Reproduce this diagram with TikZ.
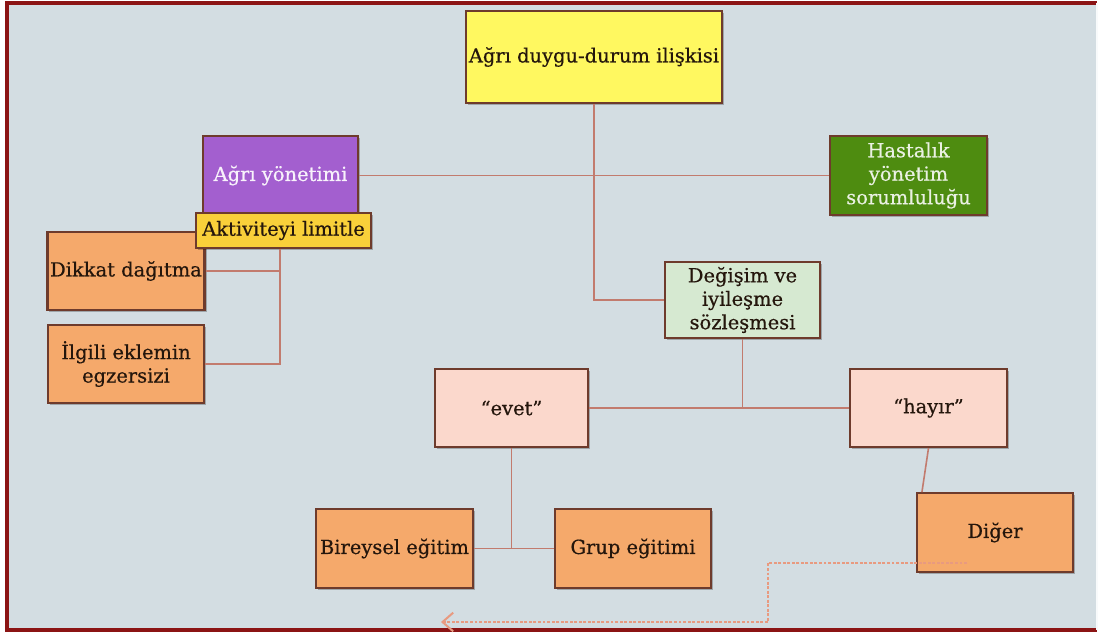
\documentclass[tikz,border=0pt]{standalone}
\usepackage{fontspec}
\setmainfont{DejaVu Serif}[FakeBold=0.5]
\usetikzlibrary{shadows,arrows.meta,calc}
\definecolor{bgc}{HTML}{D3DDE2}
\definecolor{framec}{HTML}{8B1414}
\definecolor{borderc}{HTML}{6E3B2C}
\definecolor{linec}{HTML}{C27B6E}
\definecolor{yellowc}{HTML}{FFF860}
\definecolor{purplec}{HTML}{A35FCF}
\definecolor{goldc}{HTML}{F9D03A}
\definecolor{orangec}{HTML}{F5A96B}
\definecolor{greenc}{HTML}{4E8C10}
\definecolor{lgreenc}{HTML}{D6E9D1}
\definecolor{pinkc}{HTML}{FBD8CC}
\definecolor{dashc}{HTML}{E89A80}
\definecolor{textc}{HTML}{24160C}
\tikzset{
  box/.style={draw=borderc, line width=1.6pt, align=center, inner sep=2pt,
    text=textc, font=\fontsize{14.6}{17.6}\selectfont,
    drop shadow={shadow xshift=1.5pt, shadow yshift=-1.5pt, opacity=0.25, fill=black}},
  conn/.style={draw=linec, line width=1.2pt},
  dashconn/.style={draw=dashc, line width=1.2pt, dash pattern=on 2.2pt off 1.2pt,
    -{Straight Barb[length=8pt,width=14pt,line width=1.5pt]}},
}
\begin{document}
\begin{tikzpicture}[x=0.75pt,y=-0.75pt]
\useasboundingbox (0,0) rectangle (1103,633);
\fill[white] (0,0) rectangle (1103,633);
\fill[bgc] (7,3) rectangle (1097,630);
\draw[framec, line width=3pt] (1097,3) -- (7,3) -- (7,630) -- (1097,630);
\draw[white!85!bgc, line width=0.8pt] (1097,3) -- (1097,630);

% nodes
\node[box, fill=yellowc, minimum width=192pt, minimum height=69pt] (top) at (594,57) {Ağrı duygu-durum ilişkisi};
\node[box, fill=orangec, minimum width=117pt, minimum height=58.5pt] (dik) at (126,271) {Dikkat dağıtma};
\node[box, fill=orangec, minimum width=117pt, minimum height=58.5pt] (ilg) at (126,364) {İlgili eklemin\\egzersizi};
\node[box, fill=purplec, text=white!92!purplec, minimum width=116pt, minimum height=59pt] (agr) at (280.5,175.5) {Ağrı yönetimi};
\node[box, fill=goldc, minimum width=131pt, minimum height=26pt] (akt) at (283.5,230.5) {Aktiviteyi limitle};
\node[box, fill=greenc, text=white!88!greenc, minimum width=118pt, minimum height=59pt] (has) at (908.5,175.5) {Hastalık\\yönetim\\sorumluluğu};
\node[box, fill=lgreenc, minimum width=116pt, minimum height=57pt] (deg) at (742.5,300) {Değişim ve\\iyileşme\\sözleşmesi};
\node[box, fill=pinkc, minimum width=115pt, minimum height=58.5pt] (evet) at (511.5,408) {“evet”};
\node[box, fill=pinkc, minimum width=118pt, minimum height=58.5pt] (hay) at (928.5,408) {“hayır”};
\node[box, fill=orangec, minimum width=118pt, minimum height=59pt] (bir) at (394.5,548.5) {Bireysel eğitim};
\node[box, fill=orangec, minimum width=117pt, minimum height=59pt] (grup) at (633,548.5) {Grup eğitimi};
\node[box, fill=orangec, minimum width=117pt, minimum height=59pt] (dig) at (995,532.5) {Diğer};

% connectors
\draw[conn] (top.south) |- (deg.west);
\draw[conn] (agr.east) -- (has.west);
\draw[conn] (deg.south) -- (deg.south |- evet.east);
\draw[conn] (evet.east) -- (hay.west);
\draw[conn] (evet.south) -- (evet.south |- bir.east);
\draw[conn] (bir.east) -- (grup.west);
\draw[conn] (hay.south) -- ($(dig.north west)+(6,0)$);
\coordinate (aktb) at ([xshift=-2.6pt]akt.south);
\draw[conn] (aktb) -- (aktb |- ilg.east) -- (ilg.east);
\draw[conn] (dik.east) -- (dik.east -| aktb);

% dashed arrow
\coordinate (d1) at (967,563);
\coordinate (d2) at (768,563);
\coordinate (d3) at (768,622);
\coordinate (d4) at (441,622);
\draw[dashconn] (d1) -- (d2) -- (d3) -- (d4);
\end{tikzpicture}
\end{document}
